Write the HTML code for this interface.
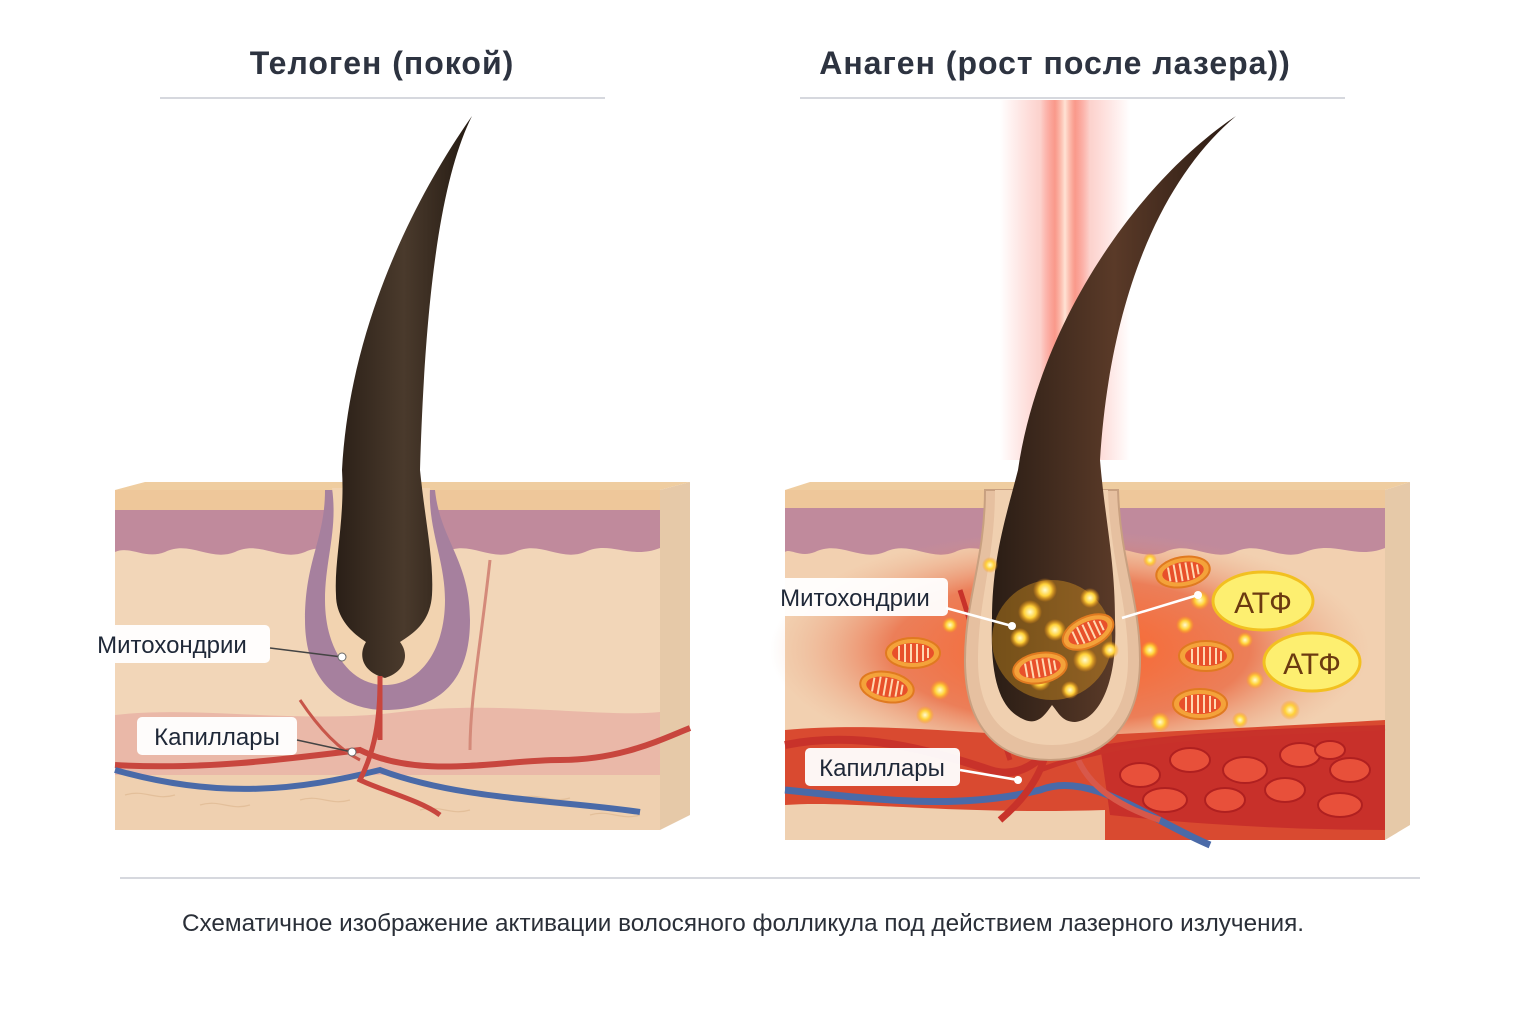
<!DOCTYPE html>
<html><head><meta charset="utf-8"><style>
html,body{margin:0;padding:0;background:#fff}
svg{display:block}
text{font-family:"Liberation Sans","DejaVu Sans",sans-serif}
</style></head><body>
<svg width="1536" height="1024" viewBox="0 0 1536 1024" xmlns="http://www.w3.org/2000/svg">
<defs>
<linearGradient id="hairL" x1="0" x2="1"><stop offset="0" stop-color="#2a1f17"/><stop offset=".5" stop-color="#4a3a2c"/><stop offset="1" stop-color="#241a12"/></linearGradient>
<linearGradient id="hairR" x1="0" x2="1"><stop offset="0" stop-color="#2a1d15"/><stop offset=".5" stop-color="#5a3a28"/><stop offset="1" stop-color="#2a1a12"/></linearGradient>
<linearGradient id="beam" x1="0" x2="1"><stop offset="0" stop-color="#ff3020" stop-opacity="0"/><stop offset=".3" stop-color="#f44a35" stop-opacity=".7"/><stop offset=".5" stop-color="#ffe0d0"/><stop offset=".7" stop-color="#f44a35" stop-opacity=".7"/><stop offset="1" stop-color="#ff3020" stop-opacity="0"/></linearGradient>
<radialGradient id="glow" cx=".5" cy=".5" r=".5"><stop offset="0" stop-color="#ff5a1a" stop-opacity=".9"/><stop offset=".6" stop-color="#e8481e" stop-opacity=".6"/><stop offset="1" stop-color="#e8a080" stop-opacity="0"/></radialGradient>
<radialGradient id="dot"><stop offset="0" stop-color="#fffbd0"/><stop offset=".5" stop-color="#ffd23a"/><stop offset="1" stop-color="#ff9a10" stop-opacity="0"/></radialGradient>
<g id="mito"><ellipse rx="27" ry="15" fill="#f4a23a" stroke="#e07a20" stroke-width="2"/><ellipse rx="21" ry="10" fill="#e8502a"/><path d="M-14,-7v14M-8,-9v18M-2,-9v18M4,-9v18M10,-8v16M15,-5v10" stroke="#ffd8b0" stroke-width="2"/></g>
</defs>
<rect width="1536" height="1024" fill="#fff"/>

<text x="382" y="74" text-anchor="middle" font-size="32" fill="#2d3340" font-weight="bold" letter-spacing="1">Телоген (покой)</text>
<text x="1055" y="74" text-anchor="middle" font-size="32" fill="#2d3340" font-weight="bold" letter-spacing="1">Анаген (рост после лазера))</text>
<line x1="160" y1="98" x2="605" y2="98" stroke="#c8ccd4" stroke-width="1.5"/>
<line x1="800" y1="98" x2="1345" y2="98" stroke="#c8ccd4" stroke-width="1.5"/>

<!-- LEFT BLOCK -->
<g>
<polygon points="660,490 690,482 690,815 660,830" fill="#e6c9a8"/>
<polygon points="115,490 145,482 690,482 660,490" fill="#efcda0"/>
<rect x="115" y="490" width="545" height="340" fill="#f2d6b8"/>
<rect x="115" y="490" width="545" height="20" fill="#eec79a"/>
<path d="M115,510 H660 V548 C630,560 610,540 585,552 C560,562 540,540 515,552 C490,562 470,540 445,552 C420,562 400,540 375,552 C350,562 330,540 305,552 C280,562 260,540 235,552 C210,562 190,540 165,552 C145,560 130,545 115,552Z" fill="#c08a9c"/>
<path d="M115,715 C200,705 300,725 400,712 C500,700 600,718 660,712 V775 H115Z" fill="#eab8a8"/>
<rect x="115" y="775" width="545" height="55" fill="#efd0b0"/>
<g fill="none" stroke="#e3bf9a" stroke-width="1.2">
<path d="M125,795c20,-6 30,6 50,0M200,805c20,-6 30,6 50,0M300,800c20,-6 30,6 50,0M420,810c20,-6 30,6 50,0M520,798c20,-6 30,6 50,0M590,815c20,-6 30,6 50,0"/>
</g>
<!-- follicle -->
<path d="M325,490 C325,540 305,560 305,620 C305,690 350,710 385,710 C430,710 470,690 470,620 C470,560 440,540 435,490Z" fill="#a6809e"/>
<path d="M332,488 C338,530 325,560 325,600 C325,650 350,685 385,685 C420,685 445,650 445,600 C445,560 428,530 430,488Z" fill="#f2d3b0"/>
<!-- vessels -->
<path d="M115,765 C200,770 280,760 360,750 C420,780 500,760 560,760 C620,760 660,740 690,728" stroke="#c8463e" stroke-width="6" fill="none"/>
<path d="M115,770 C220,800 300,790 380,770 C460,800 560,800 640,812" stroke="#4a6aa8" stroke-width="6" fill="none"/>
<path d="M380,680 C380,720 375,750 360,780 C380,790 420,800 440,815" stroke="#c8463e" stroke-width="5" fill="none"/>
<path d="M470,750 C470,700 480,650 490,560" stroke="#d48a7a" stroke-width="3" fill="none"/>
<path d="M300,700 C320,730 340,750 360,760" stroke="#c8564a" stroke-width="3" fill="none"/>
<!-- hair -->
<path d="M472,116 C440,180 425,300 420,470 C425,520 434,560 432,595 C430,625 410,635 400,642 C410,655 405,672 385,678 C362,672 358,655 366,642 C355,635 336,620 336,595 C334,560 345,520 342,470 C350,320 420,190 472,116Z" fill="url(#hairL)"/>
<path d="M380,676 L380,740" stroke="#c8463e" stroke-width="5"/>
<!-- labels -->
<rect x="74" y="625" width="196" height="38" rx="5" fill="#fff" fill-opacity=".95"/>
<text x="172" y="653" text-anchor="middle" font-size="24" fill="#1f2838">Митохондрии</text>
<line x1="270" y1="648" x2="342" y2="657" stroke="#444" stroke-width="1.5"/>
<circle cx="342" cy="657" r="4" fill="#fff" stroke="#666"/>
<rect x="137" y="717" width="160" height="38" rx="5" fill="#fff" fill-opacity=".95"/>
<text x="217" y="745" text-anchor="middle" font-size="24" fill="#1f2838">Капиллары</text>
<line x1="297" y1="740" x2="352" y2="752" stroke="#444" stroke-width="1.5"/>
<circle cx="352" cy="752" r="4" fill="#fff" stroke="#666"/>
</g>

<!-- RIGHT BLOCK -->
<g>
<rect x="1040" y="100" width="50" height="360" fill="url(#beam)" opacity=".85"/>
<rect x="1000" y="100" width="130" height="360" fill="url(#beam)" opacity=".35"/>
<polygon points="1385,490 1410,482 1410,825 1385,840" fill="#e6c9a8"/>
<polygon points="785,490 810,482 1410,482 1385,490" fill="#efcda0"/>
<rect x="785" y="490" width="600" height="350" fill="#f2d0b0"/>
<rect x="785" y="490" width="600" height="20" fill="#eec79a"/>
<path d="M785,508 H1385 V548 C1355,560 1335,540 1305,552 C1280,562 1260,540 1235,552 C1210,562 1190,540 1165,552 C1140,562 1120,540 1095,552 C1070,562 1050,540 1025,552 C1000,562 980,540 955,552 C930,562 910,540 885,552 C860,562 840,540 815,552 C800,558 790,548 785,552Z" fill="#c08a9c"/>
<ellipse cx="1070" cy="650" rx="300" ry="120" fill="url(#glow)"/>
<path d="M785,730 C900,720 1000,740 1100,735 C1200,730 1300,725 1385,720 V840 H785Z" fill="#d94a30"/>
<path d="M1100,745 C1200,730 1300,728 1385,725 V830 C1300,830 1200,825 1110,815Z" fill="#c8302a"/>
<g fill="#e8503a" stroke="#b02020" stroke-width="2">
<ellipse cx="1140" cy="775" rx="20" ry="12"/><ellipse cx="1190" cy="760" rx="20" ry="12"/><ellipse cx="1245" cy="770" rx="22" ry="13"/><ellipse cx="1300" cy="755" rx="20" ry="12"/><ellipse cx="1350" cy="770" rx="20" ry="12"/>
<ellipse cx="1165" cy="800" rx="22" ry="12"/><ellipse cx="1225" cy="800" rx="20" ry="12"/><ellipse cx="1285" cy="790" rx="20" ry="12"/><ellipse cx="1340" cy="805" rx="22" ry="12"/><ellipse cx="1330" cy="750" rx="15" ry="9"/>
</g>
<path d="M785,805 C850,800 950,815 1105,810 V840 H785Z" fill="#efd0b0"/>
<!-- vessels -->
<path d="M785,745 C860,730 930,750 990,770 C1020,780 1040,760 1060,740" stroke="#c8322a" stroke-width="8" fill="none"/>
<path d="M785,790 C880,800 960,810 1040,790 C1090,770 1150,820 1210,845" stroke="#4a6aa8" stroke-width="7" fill="none"/>
<path d="M1050,720 C1050,760 1035,790 1000,820" stroke="#c8322a" stroke-width="7" fill="none"/>
<path d="M1070,720 C1070,770 1100,800 1160,820" stroke="#d8584a" stroke-width="6" fill="none"/>
<path d="M960,590 C980,650 990,700 1010,760" stroke="#c8322a" stroke-width="5" fill="none"/>
<path d="M1040,770 C1120,740 1200,735 1385,728" stroke="#c8322a" stroke-width="5" fill="none"/>
<!-- follicle -->
<path d="M985,490 C985,560 965,600 965,660 C965,730 1000,760 1050,760 C1100,760 1140,730 1140,660 C1140,600 1120,560 1118,490Z" fill="#e6c0a0" stroke="#c8a080" stroke-width="2"/>
<path d="M995,490 C995,560 978,600 978,660 C978,720 1010,745 1052,745 C1095,745 1128,720 1128,660 C1128,600 1110,560 1108,490Z" fill="#f0d0b0"/>
<!-- hair -->
<path d="M1236,116 C1160,180 1110,300 1100,460 C1105,520 1115,560 1115,620 C1118,680 1100,720 1075,722 C1062,722 1058,712 1052,705 C1045,715 1038,725 1025,720 C1000,710 990,680 992,620 C992,560 1005,520 1018,470 C1040,320 1140,180 1236,116Z" fill="url(#hairR)"/>
<ellipse cx="1052" cy="640" rx="60" ry="60" fill="#ffb020" opacity=".35"/>
<g fill="url(#dot)">
<circle cx="1045" cy="590" r="12"/><circle cx="1090" cy="598" r="10"/><circle cx="1030" cy="612" r="12"/><circle cx="1055" cy="630" r="11"/><circle cx="1020" cy="638" r="10"/><circle cx="1085" cy="660" r="12"/><circle cx="1040" cy="680" r="11"/><circle cx="1110" cy="650" r="9"/><circle cx="1070" cy="690" r="9"/>
<circle cx="950" cy="625" r="8"/><circle cx="940" cy="690" r="10"/><circle cx="925" cy="715" r="9"/><circle cx="1150" cy="650" r="9"/><circle cx="1200" cy="600" r="10"/><circle cx="1185" cy="625" r="9"/><circle cx="1160" cy="722" r="10"/><circle cx="1255" cy="680" r="9"/><circle cx="1290" cy="710" r="10"/><circle cx="1245" cy="640" r="8"/><circle cx="990" cy="565" r="8"/><circle cx="1150" cy="560" r="7"/><circle cx="1240" cy="720" r="8"/>
</g>
<use href="#mito" transform="translate(1040,668) rotate(-10)"/>
<use href="#mito" transform="translate(1088,632) rotate(-25)"/>
<use href="#mito" transform="translate(913,653)"/>
<use href="#mito" transform="translate(887,687) rotate(10)"/>
<use href="#mito" transform="translate(1183,572) rotate(-10)"/>
<use href="#mito" transform="translate(1206,656)"/>
<use href="#mito" transform="translate(1200,704)"/>
<ellipse cx="1263" cy="601" rx="50" ry="29" fill="#fdef70" stroke="#f2c020" stroke-width="3"/>
<text x="1263" y="613" text-anchor="middle" font-size="30" fill="#6b3a10">АТФ</text>
<ellipse cx="1312" cy="662" rx="48" ry="29" fill="#fdef70" stroke="#f2c020" stroke-width="3"/>
<text x="1312" y="674" text-anchor="middle" font-size="30" fill="#6b3a10">АТФ</text>
<!-- labels -->
<rect x="758" y="578" width="190" height="38" rx="5" fill="#fff" fill-opacity=".95"/>
<text x="855" y="606" text-anchor="middle" font-size="24" fill="#1f2838">Митохондрии</text>
<line x1="946" y1="608" x2="1012" y2="626" stroke="#fff" stroke-width="2.5"/>
<circle cx="1012" cy="626" r="4" fill="#fff"/>
<line x1="1122" y1="618" x2="1198" y2="595" stroke="#fff" stroke-width="2.5"/>
<circle cx="1198" cy="595" r="4" fill="#fff"/>
<rect x="805" y="748" width="155" height="38" rx="5" fill="#fff" fill-opacity=".95"/>
<text x="882" y="776" text-anchor="middle" font-size="24" fill="#1f2838">Капиллары</text>
<line x1="960" y1="770" x2="1018" y2="780" stroke="#fff" stroke-width="2.5"/>
<circle cx="1018" cy="780" r="4" fill="#fff"/>
</g>

<line x1="120" y1="878" x2="1420" y2="878" stroke="#c8ccd4" stroke-width="1.5"/>
<text x="743" y="931" text-anchor="middle" font-size="24" fill="#2a2f38" textLength="1122" lengthAdjust="spacingAndGlyphs">Схематичное изображение активации волосяного фолликула под действием лазерного излучения.</text>
</svg>
</body></html>
